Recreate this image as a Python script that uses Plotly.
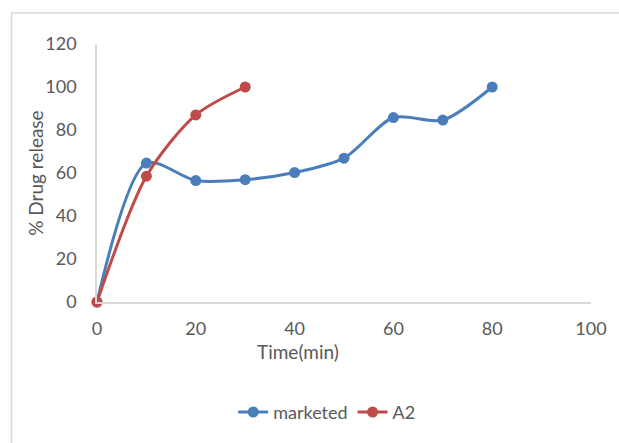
import plotly.graph_objects as go

# Dissolution profile: cumulative % drug release over time
time_marketed = [0, 10, 20, 30, 40, 50, 60, 70, 80]
release_marketed = [0, 64.6, 56.5, 56.9, 60.2, 66.9, 85.8, 84.6, 100]

time_a2 = [0, 10, 20, 30]
release_a2 = [0, 58.5, 87.0, 100]

x_ticks = [0, 20, 40, 60, 80, 100]
y_ticks = [0, 20, 40, 60, 80, 100, 120]

BLUE = "#4a7ebb"
RED = "#be4b48"
GRID = "#d9d9d9"
TEXT = "#595959"
FONT = "Lato"

W, H = 619, 443
L, R, T, B = 97, 22, 44, 137
PW, PH = W - L - R, H - T - B


def px_x(x):
    return (x - L) / PW


def px_y(y):
    return (H - B - y) / PH


fig = go.Figure()
fig.add_trace(go.Scatter(
    x=time_marketed, y=release_marketed, name="marketed",
    mode="lines+markers", line=dict(color=BLUE, width=3, shape="spline", smoothing=0.8),
    marker=dict(color=BLUE, size=11), cliponaxis=False,
))
fig.add_trace(go.Scatter(
    x=time_a2, y=release_a2, name="A2",
    mode="lines+markers", line=dict(color=RED, width=3, shape="spline", smoothing=0.8),
    marker=dict(color=RED, size=11), cliponaxis=False,
))

fig.update_layout(
    width=W, height=H,
    margin=dict(l=L, r=R, t=T, b=B, pad=0),
    paper_bgcolor="white", plot_bgcolor="white",
    font=dict(family=FONT, size=18, color=TEXT),
    showlegend=True,
    legend=dict(
        orientation="h", x=px_x(330), xanchor="center",
        y=px_y(418), yanchor="middle", font=dict(size=18, color=TEXT),
        tracegroupgap=0,
    ),
    xaxis=dict(
        range=[0, 100], tickvals=x_ticks, showgrid=False, zeroline=False,
        showline=True, linecolor=GRID, linewidth=1.5, ticks="",
        ticklabelstandoff=10, tickfont=dict(size=18, color=TEXT),
    ),
    yaxis=dict(
        range=[0, 120], tickvals=y_ticks, showgrid=False, zeroline=False,
        showline=True, linecolor=GRID, linewidth=1.5, ticks="",
        ticklabelstandoff=15, tickfont=dict(size=18, color=TEXT),
    ),
    annotations=[
        dict(text="Time(min)", xref="paper", yref="paper", x=px_x(300), y=px_y(356),
             xanchor="center", yanchor="middle", showarrow=False,
             font=dict(size=19, color=TEXT)),
        dict(text="% Drug release", xref="paper", yref="paper", x=px_x(34), y=px_y(175),
             xanchor="center", yanchor="middle", textangle=-90, showarrow=False,
             font=dict(size=19, color=TEXT)),
    ],
    shapes=[
        dict(type="rect", xref="paper", yref="paper",
             x0=px_x(10.5), y0=px_y(460), x1=px_x(640), y1=px_y(12.5),
             line=dict(color=GRID, width=1.5), layer="below"),
    ],
)

fig.write_html("out.html")
